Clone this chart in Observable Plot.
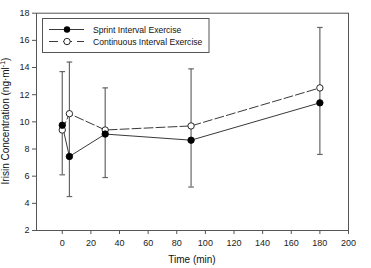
<!DOCTYPE html>
<html>
<head>
<meta charset="utf-8">
<script src="https://cdn.jsdelivr.net/npm/d3@7"></script>
<script src="https://cdn.jsdelivr.net/npm/@observablehq/plot@0.6"></script>
<style>
  html, body { margin: 0; padding: 0; background: #fff; }
  svg { display: block; font-family: "Liberation Sans", Arial, sans-serif; }
</style>
</head>
<body>
<div id="chart"></div>
<script>
const times = [0, 5, 30, 90, 180];
const sprintValues = [9.75, 7.45, 9.1, 8.65, 11.4];
const continuousValues = [9.4, 10.6, 9.4, 9.7, 12.5];
const errLow = [6.1, 4.5, 5.9, 5.2, 7.6];
const errHigh = [13.7, 14.4, 12.5, 13.9, 16.95];
const xTicks = [0, 20, 40, 60, 80, 100, 120, 140, 160, 180, 200];
const yTicks = [2, 4, 6, 8, 10, 12, 14, 16, 18];
const seriesNames = ["Sprint Interval Exercise", "Continuous Interval Exercise"];

const sprint = times.map((t, i) => ({t, v: sprintValues[i]}));
const continuous = times.map((t, i) => ({t, v: continuousValues[i]}));
const errs = times.map((t, i) => ({t, lo: errLow[i], hi: errHigh[i]}));

const cap = {
  draw(context, size) {
    const w = Math.sqrt(size / Math.PI);
    context.moveTo(-w, 0);
    context.lineTo(w, 0);
  }
};

const frameColor = "#555";
const errColor = "#666";

const chart = Plot.plot({
  width: 371,
  height: 268,
  marginLeft: 36,
  marginRight: 23,
  marginTop: 12.7,
  marginBottom: 38,
  style: {fontSize: "9px", fontFamily: "Liberation Sans, Arial, sans-serif", color: "#222"},
  x: {domain: [-18, 200], ticks: xTicks, tickSize: 4, tickPadding: 4, label: null},
  y: {domain: [2, 18], ticks: yTicks, tickSize: 4, tickPadding: 3, label: null},
  marks: [
    Plot.frame({stroke: frameColor, strokeWidth: 1}),
    Plot.axisX({ticks: xTicks, tickSize: 4, tickPadding: 5, stroke: frameColor, label: null}),
    Plot.axisY({ticks: yTicks, tickSize: 4, tickPadding: 3, stroke: frameColor, label: null}),
    Plot.ruleX(errs, {x: "t", y1: "lo", y2: "hi", stroke: errColor, strokeWidth: 1.2}),
    Plot.dot(errs, {x: "t", y: "lo", symbol: cap, r: 2.8, stroke: errColor, strokeWidth: 1.2}),
    Plot.dot(errs, {x: "t", y: "hi", symbol: cap, r: 2.8, stroke: errColor, strokeWidth: 1.2}),
    Plot.line(continuous, {x: "t", y: "v", stroke: "#222", strokeWidth: 0.9, strokeDasharray: "9,3"}),
    Plot.line(sprint, {x: "t", y: "v", stroke: "#222", strokeWidth: 0.9}),
    Plot.dot(continuous, {x: "t", y: "v", r: 3.2, fill: "#fff", stroke: "#111", strokeWidth: 0.9}),
    Plot.dot(sprint, {x: "t", y: "v", r: 3.2, fill: "#000", stroke: "#000", strokeWidth: 0.9})
  ]
});

document.getElementById("chart").appendChild(chart);

const svg = d3.select(chart);
// Axis titles
svg.append("text")
  .attr("x", 192).attr("y", 263)
  .attr("text-anchor", "middle")
  .attr("font-size", 10)
  .attr("fill", "#111")
  .text("Time (min)");

const yt = svg.append("text")
  .attr("transform", "translate(9,121) rotate(-90)")
  .attr("text-anchor", "middle")
  .attr("font-size", 10)
  .attr("fill", "#111");
yt.append("tspan").text("Irisin Concentration (ng·ml");
yt.append("tspan").attr("font-size", 7).attr("dy", -4).text("-1");
yt.append("tspan").attr("dy", 4).text(")");

// Legend
const lg = svg.append("g").attr("text-anchor", "start");
lg.append("rect").attr("x", 42.5).attr("y", 18.5).attr("width", 166.5).attr("height", 34)
  .attr("fill", "#fff").attr("stroke", frameColor).attr("stroke-width", 1);
lg.append("line").attr("x1", 49).attr("x2", 84).attr("y1", 29.5).attr("y2", 29.5)
  .attr("stroke", "#222").attr("stroke-width", 0.9);
lg.append("circle").attr("cx", 67).attr("cy", 29.5).attr("r", 3.2).attr("fill", "#000");
lg.append("line").attr("x1", 49).attr("x2", 84).attr("y1", 41.5).attr("y2", 41.5)
  .attr("stroke", "#222").attr("stroke-width", 0.9).attr("stroke-dasharray", "9,5");
lg.append("circle").attr("cx", 67).attr("cy", 41.5).attr("r", 3.2).attr("fill", "#fff")
  .attr("stroke", "#111").attr("stroke-width", 0.9);
seriesNames.forEach((name, i) => {
  lg.append("text").attr("x", 93).attr("y", 32.5 + i * 12)
    .attr("text-anchor", "start")
    .attr("font-size", 8.6).attr("fill", "#111").text(name);
});
</script>
</body>
</html>
